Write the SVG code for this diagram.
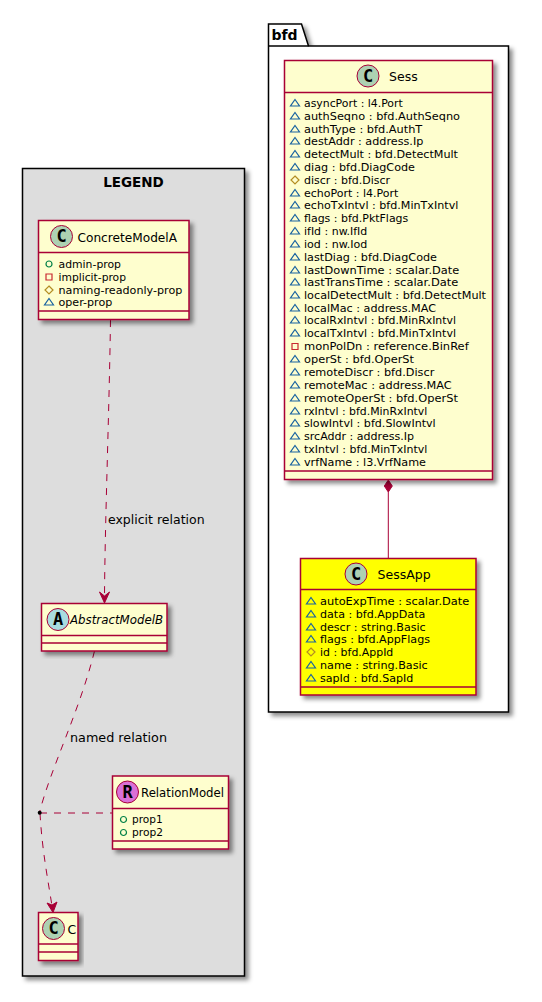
<svg xmlns="http://www.w3.org/2000/svg" width="542" height="1002" viewBox="0 0 542 1002">
<style>
text{font-family:"DejaVu Sans",sans-serif;fill:#000}
.b{fill:#FEFECE;stroke:#A80036;stroke-width:1.5}
.l{fill:none;stroke:#A80036;stroke-width:1.5}
.ln{fill:none;stroke:#A80036;stroke-width:1}
.d{stroke-dasharray:7 7}
.h{fill:#A80036;stroke:#A80036;stroke-width:1}
.c{fill:#ADD1B2;stroke:#A80036;stroke-width:1}
.g{font-family:"DejaVu Sans Mono",monospace;font-weight:bold;font-size:17px;text-anchor:middle}
.t{font-size:12.5px}
.r{font-size:11.2px}
.e{font-size:12.5px}
.f{stroke:#000;stroke-width:1.5}
</style>
<defs>
<filter id="s" x="-10%" y="-10%" width="125%" height="125%"><feDropShadow dx="3.5" dy="3.5" stdDeviation="2" flood-color="#000" flood-opacity=".45"/></filter>
<path id="tri" d="M0,-3.5L4.5,3H-4.5Z" fill="none" stroke="#1963A0" stroke-width="1.2"/>
<path id="dia" d="M0,-4L4,0L0,4L-4,0Z" fill="none" stroke="#B38D22" stroke-width="1.2"/>
<path id="sq" d="M-3,-3H3V3H-3Z" fill="none" stroke="#C82930" stroke-width="1.2"/>
<circle id="o" r="3" fill="none" stroke="#038048" stroke-width="1.2"/>
</defs>
<g id="frame-legend"><rect x="22.5" y="168.5" width="222" height="807.5" fill="#DDD" class="f" filter="url(#s)"/><text x="133.5" y="187" font-size="13.5" font-weight="bold" text-anchor="middle">LEGEND</text></g>
<g id="frame-bfd"><path d="M268.5,46V24H301.5L308.5,46H508.5V712H268.5Z" fill="#fff" class="f" filter="url(#s)"/><path d="M268.5,46H308.5" class="f" fill="none"/><text x="271.5" y="40" font-size="14" font-weight="bold">bfd</text></g>
<g id="connectors">
<path class="ln d" d="M110.5,320C109,420 105,520 104.5,597"/>
<path class="h" d="M99.5,592L104.5,603L109.5,592L104.5,596Z"/>
<text class="e" x="108" y="524">explicit relation</text>
<path class="ln d" d="M94.5,651C80,710 50,770 39.7,812"/>
<text class="e" x="70" y="742" textLength="97" lengthAdjust="spacingAndGlyphs">named relation</text>
<path class="ln d" d="M40,813C42,850 48,880 52,906"/>
<path class="h" d="M47,903L53,912.5L57,902L52,905Z"/>
<path class="ln d" d="M40,813H112"/>
<circle cx="39.7" cy="812.7" r="2" fill="#000"/>
<path class="ln" d="M388.3,492V558.5"/>
<path class="h" d="M388.3,480L392.3,486L388.3,492L384.3,486Z"/>
</g>
<g id="ConcreteModelA"><rect class="b" x="38.5" y="220.5" width="150.5" height="99" filter="url(#s)"/><path class="l" d="M38.5,252.5H189M38.5,311H189"/>
<circle class="c" cx="61.5" cy="236.5" r="11"/><text class="g" x="61.5" y="242">C</text><text class="t" x="77.5" y="241.5" textLength="99.5" lengthAdjust="spacingAndGlyphs">ConcreteModelA</text>
<use href="#o" x="49" y="264"/><text class="r" x="58.5" y="268" textLength="62.5" lengthAdjust="spacingAndGlyphs">admin-prop</text>
<use href="#sq" x="49" y="277"/><text class="r" x="58.5" y="281" textLength="67.5" lengthAdjust="spacingAndGlyphs">implicit-prop</text>
<use href="#dia" x="49" y="290"/><text class="r" x="58.5" y="294" textLength="123.8" lengthAdjust="spacingAndGlyphs">naming-readonly-prop</text>
<use href="#tri" x="49" y="302"/><text class="r" x="58.5" y="306" textLength="53.8" lengthAdjust="spacingAndGlyphs">oper-prop</text></g>
<g id="AbstractModelB"><rect class="b" x="41.5" y="603.5" width="125.5" height="47.5" filter="url(#s)"/><path class="l" d="M41.5,635.5H167M41.5,643H167"/>
<circle class="c" style="fill:#A9DCDF" cx="58" cy="619.5" r="11"/><text class="g" x="58" y="625">A</text><text class="t" x="70" y="624" font-style="italic" textLength="93" lengthAdjust="spacingAndGlyphs">AbstractModelB</text></g>
<g id="RelationModel"><rect class="b" x="112.5" y="776" width="116" height="73" filter="url(#s)"/><path class="l" d="M112.5,808.5H228.5M112.5,841H228.5"/>
<circle class="c" style="fill:#DA70D6" cx="127.5" cy="792" r="11"/><text class="g" x="127.5" y="797.5">R</text><text class="t" x="141" y="797" textLength="83" lengthAdjust="spacingAndGlyphs">RelationModel</text>
<use href="#o" x="123.5" y="819.5"/><text class="r" x="132" y="823" textLength="30.7" lengthAdjust="spacingAndGlyphs">prop1</text>
<use href="#o" x="123.5" y="832.5"/><text class="r" x="132" y="836" textLength="31" lengthAdjust="spacingAndGlyphs">prop2</text></g>
<g id="C"><rect class="b" x="38.5" y="912.5" width="39.5" height="48" filter="url(#s)"/><path class="l" d="M38.5,944H78M38.5,952H78"/>
<circle class="c" cx="53.5" cy="928.5" r="11"/><text class="g" x="53.5" y="934">C</text><text class="t" x="67.5" y="934">C</text></g>
<g id="Sess"><rect class="b" x="284.5" y="60.5" width="208" height="419" filter="url(#s)"/><path class="l" d="M284.5,92.5H492.5M284.5,471H492.5"/>
<circle class="c" cx="368" cy="76" r="11"/><text class="g" x="368" y="81.5">C</text><text class="t" x="389" y="81">Sess</text>
<use href="#tri" x="295" y="103"/><text class="r" x="304" y="107" textLength="98.7" lengthAdjust="spacingAndGlyphs">asyncPort : l4.Port</text>
<use href="#tri" x="295" y="116"/><text class="r" x="304" y="120" textLength="156" lengthAdjust="spacingAndGlyphs">authSeqno : bfd.AuthSeqno</text>
<use href="#tri" x="295" y="129"/><text class="r" x="304" y="133" textLength="118.3" lengthAdjust="spacingAndGlyphs">authType : bfd.AuthT</text>
<use href="#tri" x="295" y="141"/><text class="r" x="304" y="145" textLength="119.3" lengthAdjust="spacingAndGlyphs">destAddr : address.Ip</text>
<use href="#tri" x="295" y="154"/><text class="r" x="304" y="158" textLength="154" lengthAdjust="spacingAndGlyphs">detectMult : bfd.DetectMult</text>
<use href="#tri" x="295" y="167"/><text class="r" x="304" y="171" textLength="111" lengthAdjust="spacingAndGlyphs">diag : bfd.DiagCode</text>
<use href="#dia" x="295" y="180"/><text class="r" x="304" y="184" textLength="86" lengthAdjust="spacingAndGlyphs">discr : bfd.Discr</text>
<use href="#tri" x="295" y="193"/><text class="r" x="304" y="197" textLength="94.3" lengthAdjust="spacingAndGlyphs">echoPort : l4.Port</text>
<use href="#tri" x="295" y="205"/><text class="r" x="304" y="209" textLength="154.3" lengthAdjust="spacingAndGlyphs">echoTxIntvl : bfd.MinTxIntvl</text>
<use href="#tri" x="295" y="218"/><text class="r" x="304" y="222" textLength="104.3" lengthAdjust="spacingAndGlyphs">flags : bfd.PktFlags</text>
<use href="#tri" x="295" y="231"/><text class="r" x="304" y="235" textLength="63.3" lengthAdjust="spacingAndGlyphs">ifId : nw.IfId</text>
<use href="#tri" x="295" y="244"/><text class="r" x="304" y="248" textLength="63.3" lengthAdjust="spacingAndGlyphs">iod : nw.Iod</text>
<use href="#tri" x="295" y="257"/><text class="r" x="304" y="261" textLength="133" lengthAdjust="spacingAndGlyphs">lastDiag : bfd.DiagCode</text>
<use href="#tri" x="295" y="270"/><text class="r" x="304" y="274" textLength="155.3" lengthAdjust="spacingAndGlyphs">lastDownTime : scalar.Date</text>
<use href="#tri" x="295" y="282"/><text class="r" x="304" y="286" textLength="154.3" lengthAdjust="spacingAndGlyphs">lastTransTime : scalar.Date</text>
<use href="#tri" x="295" y="295"/><text class="r" x="304" y="299" textLength="182" lengthAdjust="spacingAndGlyphs">localDetectMult : bfd.DetectMult</text>
<use href="#tri" x="295" y="308"/><text class="r" x="304" y="312" textLength="132" lengthAdjust="spacingAndGlyphs">localMac : address.MAC</text>
<use href="#tri" x="295" y="320"/><text class="r" x="304" y="324" textLength="152" lengthAdjust="spacingAndGlyphs">localRxIntvl : bfd.MinRxIntvl</text>
<use href="#tri" x="295" y="333"/><text class="r" x="304" y="337" textLength="152" lengthAdjust="spacingAndGlyphs">localTxIntvl : bfd.MinTxIntvl</text>
<use href="#sq" x="295" y="346.5"/><text class="r" x="304" y="350" textLength="164.7" lengthAdjust="spacingAndGlyphs">monPolDn : reference.BinRef</text>
<use href="#tri" x="295" y="359"/><text class="r" x="304" y="363" textLength="110" lengthAdjust="spacingAndGlyphs">operSt : bfd.OperSt</text>
<use href="#tri" x="295" y="372"/><text class="r" x="304" y="376" textLength="130.3" lengthAdjust="spacingAndGlyphs">remoteDiscr : bfd.Discr</text>
<use href="#tri" x="295" y="385"/><text class="r" x="304" y="389" textLength="147.7" lengthAdjust="spacingAndGlyphs">remoteMac : address.MAC</text>
<use href="#tri" x="295" y="398"/><text class="r" x="304" y="402" textLength="154" lengthAdjust="spacingAndGlyphs">remoteOperSt : bfd.OperSt</text>
<use href="#tri" x="295" y="411"/><text class="r" x="304" y="415" textLength="123.3" lengthAdjust="spacingAndGlyphs">rxIntvl : bfd.MinRxIntvl</text>
<use href="#tri" x="295" y="423"/><text class="r" x="304" y="427" textLength="131.7" lengthAdjust="spacingAndGlyphs">slowIntvl : bfd.SlowIntvl</text>
<use href="#tri" x="295" y="436"/><text class="r" x="304" y="440" textLength="110" lengthAdjust="spacingAndGlyphs">srcAddr : address.Ip</text>
<use href="#tri" x="295" y="449"/><text class="r" x="304" y="453" textLength="123.3" lengthAdjust="spacingAndGlyphs">txIntvl : bfd.MinTxIntvl</text>
<use href="#tri" x="295" y="462"/><text class="r" x="304" y="466" textLength="122" lengthAdjust="spacingAndGlyphs">vrfName : l3.VrfName</text></g>
<g id="SessApp"><rect class="b" style="fill:#FFFF00" x="300.5" y="558.5" width="175.5" height="136.5" filter="url(#s)"/><path class="l" d="M300.5,589.5H476M300.5,687H476"/>
<circle class="c" cx="356" cy="574" r="11"/><text class="g" x="356" y="579.5">C</text><text class="t" x="377.5" y="578.5">SessApp</text>
<use href="#tri" x="311" y="601"/><text class="r" x="320" y="605" textLength="149.3" lengthAdjust="spacingAndGlyphs">autoExpTime : scalar.Date</text>
<use href="#tri" x="311" y="614"/><text class="r" x="320" y="618" textLength="105.3" lengthAdjust="spacingAndGlyphs">data : bfd.AppData</text>
<use href="#tri" x="311" y="627"/><text class="r" x="320" y="631" textLength="105.7" lengthAdjust="spacingAndGlyphs">descr : string.Basic</text>
<use href="#tri" x="311" y="639"/><text class="r" x="320" y="643" textLength="110" lengthAdjust="spacingAndGlyphs">flags : bfd.AppFlags</text>
<use href="#dia" x="311" y="652"/><text class="r" x="320" y="656" textLength="73.3" lengthAdjust="spacingAndGlyphs">id : bfd.AppId</text>
<use href="#tri" x="311" y="665"/><text class="r" x="320" y="669" textLength="107.7" lengthAdjust="spacingAndGlyphs">name : string.Basic</text>
<use href="#tri" x="311" y="678"/><text class="r" x="320" y="682" textLength="93.3" lengthAdjust="spacingAndGlyphs">sapId : bfd.SapId</text></g>
</svg>
